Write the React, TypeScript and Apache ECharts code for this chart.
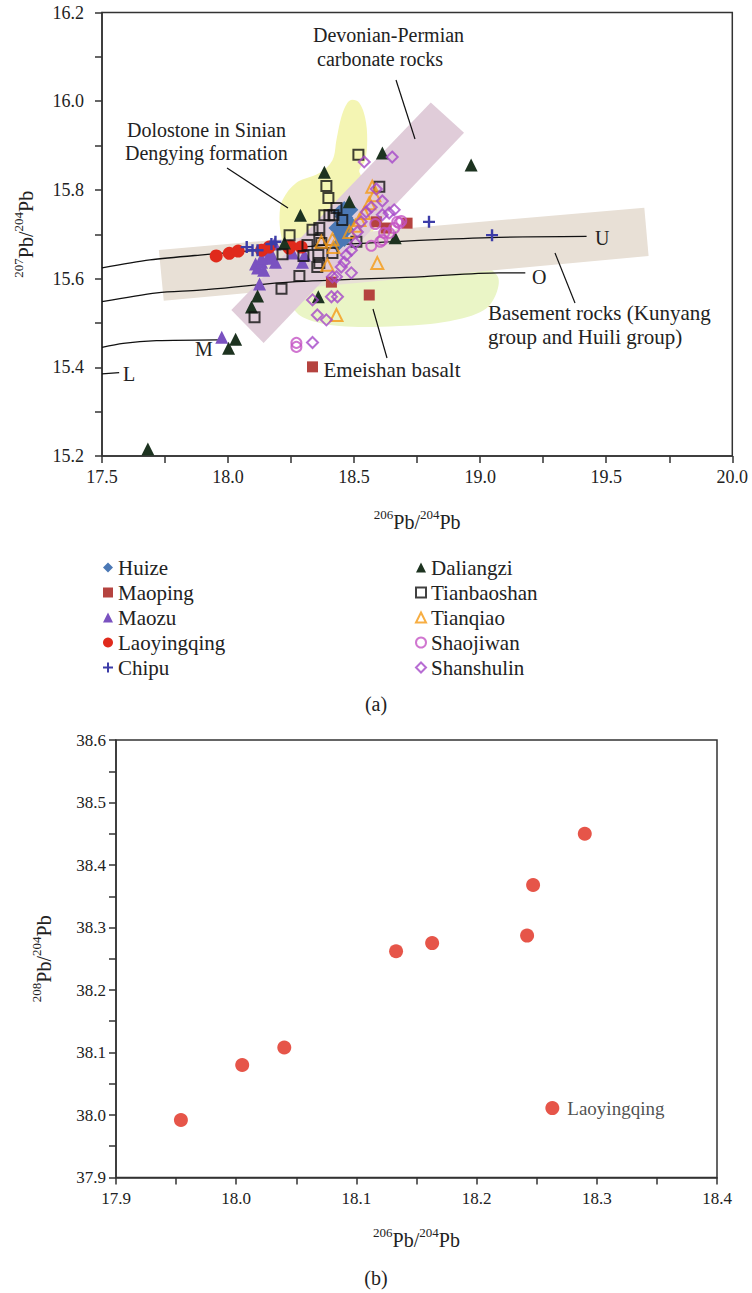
import React, { useEffect, useRef } from 'react';
import * as echarts from 'echarts';

const FONT = '"Liberation Serif", "Times New Roman", serif';
const INK = '#222';

// ---------- (a) 206Pb/204Pb vs 207Pb/204Pb ----------
const huize = [[18.441, 15.75], [18.461, 15.759], [18.469, 15.737], [18.453, 15.721], [18.473, 15.71], [18.441, 15.698], [18.461, 15.687], [18.434, 15.676], [18.481, 15.728], [18.489, 15.755], [18.426, 15.714], [18.45, 15.74], [18.445, 15.705]];
const maoping = [[18.588, 15.728], [18.71, 15.725], [18.627, 15.714], [18.41, 15.592], [18.56, 15.563], [18.335, 15.401]];
const maozu = [[17.975, 15.468], [18.125, 15.588], [18.109, 15.633], [18.117, 15.624], [18.133, 15.637], [18.141, 15.619], [18.157, 15.646], [18.172, 15.651], [18.184, 15.678], [18.165, 15.664], [18.188, 15.637], [18.256, 15.658], [18.295, 15.637], [18.303, 15.653], [18.133, 15.646]];
const laoyingqingA = [[17.953, 15.651], [18.005, 15.657], [18.04, 15.662], [18.133, 15.664], [18.163, 15.671], [18.242, 15.669], [18.247, 15.673], [18.29, 15.671]];
const chipu = [[18.074, 15.671], [18.097, 15.664], [18.117, 15.664], [18.172, 15.678], [18.188, 15.683], [18.797, 15.728], [19.047, 15.698]];
const daliangzi = [[17.682, 15.216], [18.03, 15.463], [18.002, 15.443], [18.093, 15.536], [18.117, 15.561], [18.224, 15.68], [18.382, 15.84], [18.287, 15.743], [18.612, 15.883], [18.481, 15.773], [18.964, 15.856], [18.663, 15.692], [18.358, 15.559]];
const tianbaoshan = [[18.517, 15.879], [18.39, 15.809], [18.398, 15.782], [18.43, 15.759], [18.382, 15.743], [18.402, 15.743], [18.418, 15.743], [18.453, 15.732], [18.6, 15.807], [18.244, 15.698], [18.216, 15.655], [18.299, 15.651], [18.335, 15.71], [18.362, 15.714], [18.362, 15.687], [18.315, 15.676], [18.283, 15.606], [18.212, 15.577], [18.105, 15.513], [18.358, 15.653], [18.362, 15.635], [18.37, 15.68], [18.414, 15.658], [18.509, 15.683], [18.354, 15.626]];
const tianqiao = [[18.572, 15.807], [18.58, 15.788], [18.56, 15.77], [18.54, 15.748], [18.521, 15.732], [18.505, 15.719], [18.37, 15.683], [18.414, 15.689], [18.418, 15.671], [18.394, 15.631], [18.592, 15.635], [18.43, 15.518], [18.481, 15.705]];
const shaojiwan = [[18.671, 15.728], [18.659, 15.714], [18.639, 15.703], [18.612, 15.687], [18.604, 15.683], [18.679, 15.725], [18.619, 15.703], [18.584, 15.723], [18.687, 15.73], [18.271, 15.455], [18.271, 15.446], [18.568, 15.674]];
const shanshulin = [[18.54, 15.863], [18.651, 15.874], [18.588, 15.802], [18.612, 15.775], [18.612, 15.744], [18.568, 15.761], [18.548, 15.75], [18.528, 15.728], [18.513, 15.705], [18.505, 15.68], [18.489, 15.664], [18.469, 15.653], [18.461, 15.637], [18.449, 15.626], [18.489, 15.613], [18.43, 15.604], [18.414, 15.604], [18.335, 15.552], [18.41, 15.559], [18.434, 15.559], [18.354, 15.518], [18.39, 15.507], [18.639, 15.748], [18.659, 15.755], [18.335, 15.456]];

// growth curves
const curveU = [[17.5, 15.624], [17.69, 15.642], [17.888, 15.653], [18.283, 15.671], [18.758, 15.686], [19.074, 15.693], [19.422, 15.695]];
const curveO = [[17.5, 15.548], [17.718, 15.568], [17.888, 15.574], [18.244, 15.592], [18.758, 15.604], [19.074, 15.613], [19.179, 15.613]];
const curveM = [[17.5, 15.445], [17.584, 15.454], [17.716, 15.46], [17.96, 15.462]];
const curveL = [[17.5, 15.385], [17.568, 15.388]];

// fields
const fieldDolostone = [[18.493, 16.003], [18.521, 15.996], [18.544, 15.962], [18.552, 15.913], [18.544, 15.867], [18.521, 15.84], [18.6, 15.777], [18.521, 15.664], [18.244, 15.637], [18.212, 15.694], [18.204, 15.739], [18.216, 15.777], [18.271, 15.816], [18.362, 15.838], [18.414, 15.867], [18.43, 15.913], [18.449, 15.964], [18.473, 15.996]];
const fieldEmeishan = [[18.236, 15.597], [18.252, 15.54], [18.303, 15.511], [18.441, 15.493], [18.679, 15.493], [18.877, 15.504], [19.015, 15.529], [19.066, 15.57], [19.066, 15.608], [18.956, 15.646], [18.283, 15.637]];
const fieldBasement = [[17.7255, 15.6645], [19.651, 15.76], [19.668, 15.651], [17.745, 15.55]];
const fieldCarbonate = [[18.804, 15.997], [18.936, 15.929], [18.141, 15.455], [18.013, 15.529]];

// ---------- (b) 206Pb/204Pb vs 208Pb/204Pb ----------
const laoyingqingB = [[17.954, 37.992], [18.005, 38.08], [18.04, 38.108], [18.133, 38.262], [18.163, 38.275], [18.242, 38.287], [18.247, 38.368], [18.29, 38.45]];
const laoyingqingKey = [[18.263, 38.011]];

const xTicksA = { min: 17.5, max: 20.0, interval: 0.5 };
const yTicksA = { min: 15.2, max: 16.2, interval: 0.2 };
const xTicksB = { min: 17.9, max: 18.4, interval: 0.1 };
const yTicksB = { min: 37.9, max: 38.6, interval: 0.1 };

const PLUS = 'path://M4,0h2v4h4v2h-4v4h-2v-4h-4v-2h4z';

const supName = (a: string, b: string) => `{sup|${a}}{base|Pb/}{sup|${b}}{base|Pb}`;
const nameRich = {
  sup: { fontSize: 13, fontFamily: FONT, color: INK, verticalAlign: 'top', lineHeight: 24 },
  base: { fontSize: 20, fontFamily: FONT, color: INK, verticalAlign: 'bottom', lineHeight: 24 },
};

function axisCommon(fontSize: number) {
  return {
    axisLine: { show: true, lineStyle: { color: '#333', width: 1.5 } },
    axisTick: { show: true, inside: false, length: 7, lineStyle: { color: '#333', width: 1.5 } },
    minorTick: { show: true, splitNumber: 2, length: 7, lineStyle: { color: '#333', width: 1.5 } },
    splitLine: { show: false },
    minorSplitLine: { show: false },
    axisLabel: { fontFamily: FONT, fontSize, color: INK, formatter: (v: number) => v.toFixed(1) },
  };
}

function poly(name: string, pts: number[][], color: string, smooth = 0) {
  return {
    name,
    type: 'custom',
    xAxisIndex: 0,
    yAxisIndex: 0,
    silent: true,
    z: 1,
    data: [pts[0]],
    renderItem: (_p: any, api: any) => ({
      type: 'polygon',
      shape: { points: pts.map((p) => api.coord(p)), smooth },
      style: { fill: color },
    }),
  };
}

function curve(name: string, pts: number[][]) {
  return {
    name,
    type: 'line',
    xAxisIndex: 0,
    yAxisIndex: 0,
    data: pts,
    smooth: 0.3,
    symbol: 'none',
    silent: true,
    z: 2,
    lineStyle: { color: '#111', width: 1.3 },
  };
}

function scat(name: string, data: number[][], symbol: string, size: number, color: string, hollow = false) {
  return {
    name,
    type: 'scatter',
    xAxisIndex: 0,
    yAxisIndex: 0,
    data,
    symbol,
    symbolSize: size,
    z: 3,
    itemStyle: hollow
      ? { color: 'rgba(255,255,255,0)', borderColor: color, borderWidth: 2 }
      : { color, opacity: 1 },
  };
}

const txt = (text: string, x: number, y: number, size = 20, align = 'left') => ({
  type: 'text',
  x,
  y,
  z: 20,
  style: { text, fill: INK, font: `${size}px ${FONT}`, textAlign: align, textVerticalAlign: 'middle' },
  silent: true,
});
const seg = (x1: number, y1: number, x2: number, y2: number) => ({
  type: 'line',
  z: 20,
  shape: { x1, y1, x2, y2 },
  style: { stroke: '#111', lineWidth: 1.2 },
  silent: true,
});

export default function App() {
  const ref = useRef<HTMLDivElement>(null);
  useEffect(() => {
    if (!ref.current) return;
    const chart = echarts.init(ref.current, undefined, { renderer: 'svg' });
    const legendText = { fontFamily: FONT, fontSize: 21, color: INK, lineHeight: 21 };
    chart.setOption({
      animation: false,
      backgroundColor: '#fff',
      grid: [
        { left: 102, top: 12.5, width: 630.3, height: 443.5, show: true, borderColor: '#333', borderWidth: 1.5, backgroundColor: 'transparent' },
        { left: 116, top: 740, width: 601, height: 437.5, show: true, borderColor: '#333', borderWidth: 1.5, backgroundColor: 'transparent' },
      ],
      xAxis: [
        {
          type: 'value', gridIndex: 0, ...xTicksA, ...axisCommon(18),
          axisLabel: { ...axisCommon(18).axisLabel, margin: 12 },
          name: supName('206', '204'), nameLocation: 'middle', nameGap: 52,
          nameTextStyle: { rich: nameRich },
        },
        {
          type: 'value', gridIndex: 1, ...xTicksB, ...axisCommon(17),
          axisLabel: { ...axisCommon(17).axisLabel, margin: 12 },
          name: supName('206', '204'), nameLocation: 'middle', nameGap: 48,
          nameTextStyle: { rich: nameRich },
        },
      ],
      yAxis: [
        {
          type: 'value', gridIndex: 0, ...yTicksA, ...axisCommon(18),
          axisLabel: { ...axisCommon(18).axisLabel, margin: 18 },
          name: supName('207', '204'), nameLocation: 'middle', nameGap: 66, nameRotate: 90,
          nameTextStyle: { rich: nameRich },
        },
        {
          type: 'value', gridIndex: 1, ...yTicksB, ...axisCommon(17),
          axisLabel: { ...axisCommon(17).axisLabel, margin: 10 },
          name: supName('208', '204'), nameLocation: 'middle', nameGap: 62, nameRotate: 90,
          nameTextStyle: { rich: nameRich },
        },
      ],
      legend: [
        {
          data: ['Huize', 'Maoping', 'Maozu', 'Laoyingqing', 'Chipu'],
          orient: 'vertical', left: 98, top: 552, itemWidth: 10, itemHeight: 10, itemGap: 4,
          selectedMode: false, textStyle: legendText,
        },
        {
          data: ['Daliangzi', 'Tianbaoshan', 'Tianqiao', 'Shaojiwan', 'Shanshulin'],
          orient: 'vertical', left: 410, top: 552, itemWidth: 10, itemHeight: 10, itemGap: 4,
          selectedMode: false, textStyle: legendText,
        },
      ],
      series: [
        poly('Dolostone field', fieldDolostone, '#f4f5b3', 0.35),
        poly('Emeishan field', fieldEmeishan, '#eaf5c6', 0.35),
        poly('Basement field', fieldBasement, '#e8e0d6'),
        poly('Carbonate field', fieldCarbonate, '#e0ccd9'),
        curve('U', curveU),
        curve('O', curveO),
        curve('M', curveM),
        curve('L', curveL),
        scat('Huize', huize, 'diamond', 14, '#4b78b5'),
        scat('Maozu', maozu, 'triangle', 13, '#7a52c0'),
        scat('Laoyingqing', laoyingqingA, 'circle', 13, '#e02a1c'),
        scat('Chipu', chipu, PLUS, 12, '#3c3ca8'),
        scat('Maoping', maoping, 'rect', 11, '#b5433f'),
        scat('Daliangzi', daliangzi, 'triangle', 13, '#1d3320'),
        scat('Tianbaoshan', tianbaoshan, 'rect', 10, '#111', true),
        scat('Tianqiao', tianqiao, 'triangle', 12, '#f59a14', true),
        scat('Shaojiwan', shaojiwan, 'circle', 10, '#c454c4', true),
        scat('Shanshulin', shanshulin, 'diamond', 11, '#a548c8', true),
        {
          name: 'Laoyingqing (b)', type: 'scatter', xAxisIndex: 1, yAxisIndex: 1,
          data: laoyingqingB, symbol: 'circle', symbolSize: 14, itemStyle: { color: '#e02a1c' },
        },
        {
          name: 'Laoyingqing key', type: 'scatter', xAxisIndex: 1, yAxisIndex: 1,
          data: laoyingqingKey, symbol: 'circle', symbolSize: 14, itemStyle: { color: '#e02a1c' },
          label: { show: true, position: 'right', distance: 8, formatter: 'Laoyingqing', fontFamily: FONT, fontSize: 19, color: INK },
        },
      ],
      graphic: [
        txt('Devonian-Permian', 313, 35),
        txt('carbonate rocks', 317, 59),
        txt('Dolostone in Sinian', 127, 130),
        txt('Dengying formation', 125, 153),
        txt('Basement rocks (Kunyang', 488, 313, 21),
        txt('group and Huili group)', 488, 337, 21),
        txt('Emeishan basalt', 392, 370, 21, 'center'),
        txt('U', 595, 238),
        txt('O', 532, 277),
        txt('M', 195, 349),
        txt('L', 123, 374),
        txt('(a)', 376, 704, 20, 'center'),
        txt('(b)', 376, 1278, 20, 'center'),
        seg(227, 168, 288, 208),
        seg(396, 80, 415, 139),
        seg(555, 253, 575, 303),
        seg(373, 309, 387, 358),
      ],
    });
    return () => chart.dispose();
  }, []);
  return <div ref={ref} style={{ position: 'absolute', left: 0, top: 0, width: 752, height: 1293 }} />;
}
